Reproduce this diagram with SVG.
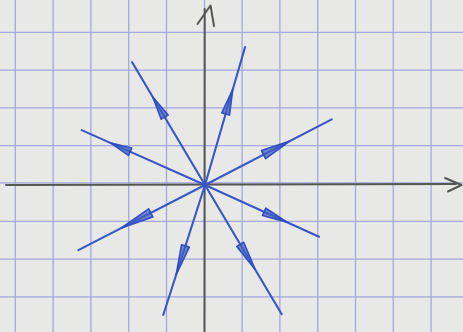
<svg xmlns="http://www.w3.org/2000/svg" width="463" height="332" viewBox="0 0 463 332">
<style>
.grid line{stroke:#a6a6e2;stroke-width:1.3}
.axis{stroke:#555555;stroke-width:2;fill:none;stroke-linecap:round;stroke-linejoin:round}
.ray line{stroke:#3857c4;stroke-width:2.1;stroke-linecap:round}
.ray polygon{fill:#3d5cc4;fill-opacity:0.7;stroke:#3050bf;stroke-width:1.7;stroke-linejoin:round}
</style>
<rect width="463" height="332" fill="#e8e8e6"/>
<g class="grid">
<line x1="15.3" y1="0" x2="15.3" y2="332"/>
<line x1="53.1" y1="0" x2="53.1" y2="332"/>
<line x1="90.9" y1="0" x2="90.9" y2="332"/>
<line x1="128.7" y1="0" x2="128.7" y2="332"/>
<line x1="166.5" y1="0" x2="166.5" y2="332"/>
<line x1="204.5" y1="0" x2="204.5" y2="332"/>
<line x1="242.1" y1="0" x2="242.1" y2="332"/>
<line x1="279.9" y1="0" x2="279.9" y2="332"/>
<line x1="317.7" y1="0" x2="317.7" y2="332"/>
<line x1="355.5" y1="0" x2="355.5" y2="332"/>
<line x1="393.3" y1="0" x2="393.3" y2="332"/>
<line x1="431.1" y1="0" x2="431.1" y2="332"/>
<line x1="0" y1="32.3" x2="463" y2="32.3"/>
<line x1="0" y1="70.1" x2="463" y2="70.1"/>
<line x1="0" y1="107.9" x2="463" y2="107.9"/>
<line x1="0" y1="145.7" x2="463" y2="145.7"/>
<line x1="0" y1="182.8" x2="463" y2="182.8"/>
<line x1="0" y1="221.3" x2="463" y2="221.3"/>
<line x1="0" y1="259.1" x2="463" y2="259.1"/>
<line x1="0" y1="296.9" x2="463" y2="296.9"/>
</g>
<g id="axes">
<line class="axis" x1="6" y1="185" x2="456" y2="184"/>
<polyline class="axis" points="445,178 461.5,185 448,191.5"/>
<line class="axis" x1="204.7" y1="9" x2="204.5" y2="332"/>
<polyline class="axis" points="197.5,24 210.5,5.5 214,26"/>
</g>
<g id="connectors">
<g id="ray-ul" class="ray" transform="translate(205,185) rotate(-120.7)"><line x1="0" y1="0" x2="143" y2="0"/><polygon points="102,0 79,-4 79,4"/></g>
<g id="ray-ur" class="ray" transform="translate(205,185) rotate(-73.8)"><line x1="0" y1="0" x2="143.7" y2="0"/><polygon points="99,0 74,-4 74,4"/></g>
<g id="ray-ru" class="ray" transform="translate(205,185) rotate(-27.4)"><line x1="0" y1="0" x2="142.7" y2="0"/><polygon points="95,0 66,-4.5 66,4.5"/></g>
<g id="ray-lu" class="ray" transform="translate(205,185) rotate(-156)"><line x1="0" y1="0" x2="135" y2="0"/><polygon points="103,0 82,-4 82,4"/></g>
<g id="ray-ll" class="ray" transform="translate(205,185) rotate(152.8)"><line x1="0" y1="0" x2="142.4" y2="0"/><polygon points="94,0 61,-4.5 61,4.5"/></g>
<g id="ray-bl" class="ray" transform="translate(205,185) rotate(107.8)"><line x1="0" y1="0" x2="136.5" y2="0"/><polygon points="94,0 64,-4 64,4"/></g>
<g id="ray-br" class="ray" transform="translate(205,185) rotate(59.3)"><line x1="0" y1="0" x2="150.3" y2="0"/><polygon points="98,0 69,-4 69,4"/></g>
<g id="ray-rl" class="ray" transform="translate(205,185) rotate(24.4)"><line x1="0" y1="0" x2="125.2" y2="0"/><polygon points="90,0 65,-4 65,4"/></g>
</g>
</svg>
